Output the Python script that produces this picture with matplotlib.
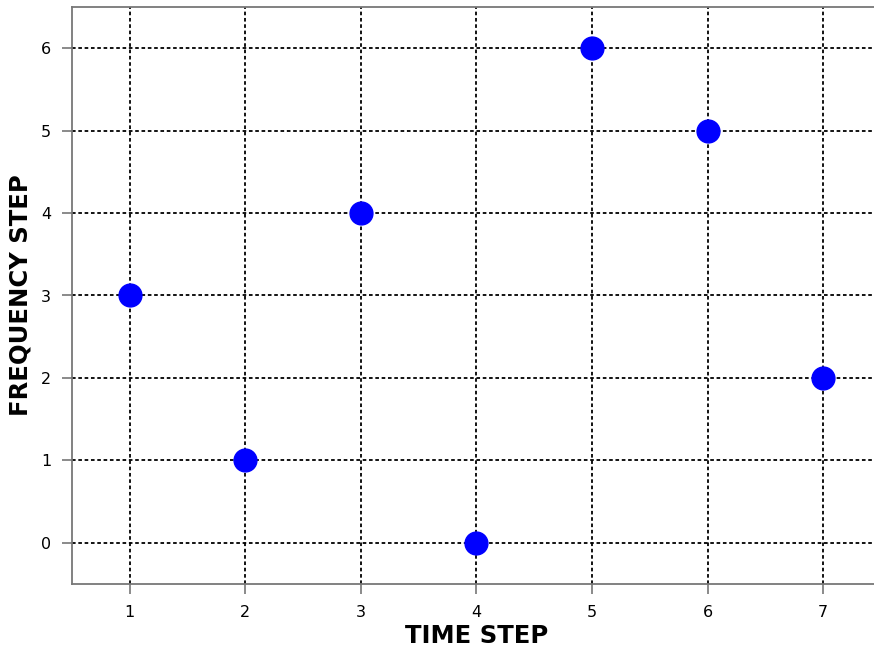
import matplotlib
matplotlib.use('Agg')
import matplotlib.pyplot as plt

time_step = [1, 2, 3, 4, 5, 6, 7]
freq_step = [3, 1, 4, 0, 6, 5, 2]

fig = plt.figure(figsize=(8.74, 6.54), dpi=100)
ax = fig.add_axes([72 / 874, 70 / 654, (881 - 72) / 874, (584 - 7) / 654])

ax.scatter(time_step, freq_step, s=270, color='blue', zorder=3)

ax.set_xlim(0.5, 7.5)
ax.set_ylim(-0.5, 6.5)
ax.set_xticks(time_step)
ax.set_yticks(range(0, 7))
ax.grid(True, color='black', linestyle=(0, (2, 1.5)), linewidth=1.3)
ax.set_axisbelow(True)

for sp in ax.spines.values():
    sp.set_color('#777777')
    sp.set_linewidth(1.3)
ax.tick_params(direction='out', length=7, width=1.2, color='#777777', labelsize=11.5, pad=8)

ax.set_xlabel('TIME STEP', fontsize=17.5, fontweight='bold', labelpad=3)
ax.set_ylabel('FREQUENCY STEP', fontsize=17.5, fontweight='bold', labelpad=6)

fig.savefig('out.png', dpi=100)
